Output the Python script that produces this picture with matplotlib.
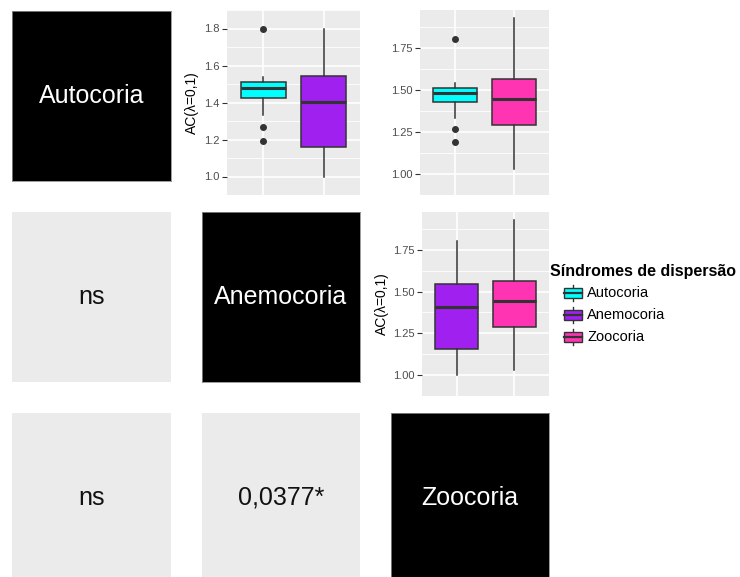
import numpy as np
import matplotlib
matplotlib.use("Agg")
import matplotlib.pyplot as plt
from matplotlib.patches import Rectangle
from matplotlib.lines import Line2D

plt.rcParams['font.family'] = ['Liberation Sans', 'DejaVu Sans']

# --- data -------------------------------------------------------------
groups = ["Autocoria", "Anemocoria", "Zoocoria"]
colors = ["#00FFFF", "#A020F0", "#FF34B3"]

q1 = [1.426, 1.157, 1.290]
median = [1.480, 1.405, 1.445]
q3 = [1.510, 1.543, 1.565]
whisker_low = [1.330, 1.000, 1.030]
whisker_high = [1.540, 1.800, 1.930]
outliers = [[1.80, 1.27, 1.19], [], []]

pair_labels = ["ns", "ns", "0,0377*"]     # lower triangle (row, col): (1,0), (2,0), (2,1)

ticks_p1 = [1.0, 1.2, 1.4, 1.6, 1.8]
ticks_p23 = [1.00, 1.25, 1.50, 1.75]

y_label = "AC(λ=0,1)"
legend_title = "Síndromes de dispersão"

# --- figure in pixel units -------------------------------------------
W, H = 740, 577
fig = plt.figure(figsize=(W / 100, H / 100), dpi=100)
fig.patch.set_facecolor("white")


def px_axes(x0, y0, x1, y1):
    return fig.add_axes([x0 / W, 1 - y1 / H, (x1 - x0) / W, (y1 - y0) / H])


cols = [(12, 171), (202, 360), (391, 549)]
rows = [(11, 181), (212, 382), (413, 583)]

# diagonal: group names on black tiles
for i, g in enumerate(groups):
    ax = px_axes(cols[i][0], rows[i][0], cols[i][1], rows[i][1])
    ax.set_facecolor("black")
    ax.set_xticks([]); ax.set_yticks([])
    for s in ax.spines.values():
        s.set_color("#8a8a8a"); s.set_linewidth(0.6)
    ax.text(0.5, 0.5, g, color="white", fontsize=18,
            ha="center", va="center", transform=ax.transAxes)

# lower triangle: test results on grey tiles
for (r, c), lab in zip([(1, 0), (2, 0), (2, 1)], pair_labels):
    ax = px_axes(cols[c][0], rows[r][0], cols[c][1], rows[r][1])
    ax.set_facecolor("#EBEBEB")
    ax.set_xticks([]); ax.set_yticks([])
    for s in ax.spines.values():
        s.set_visible(False)
    ax.text(0.5, 0.5, lab, color="#111111", fontsize=18,
            ha="center", va="center", transform=ax.transAxes)


def stats_for(i):
    return dict(med=median[i], q1=q1[i], q3=q3[i], whislo=whisker_low[i],
                whishi=whisker_high[i], fliers=outliers[i], label=groups[i])


def box_panel(rect, idx, ticks, fmt):
    ax = px_axes(*rect)
    ax.set_facecolor("#EBEBEB")
    for s in ax.spines.values():
        s.set_visible(False)
    st = [stats_for(i) for i in idx]
    art = ax.bxp(st, positions=[1, 2], widths=0.75, patch_artist=True,
                 showcaps=False,
                 boxprops=dict(edgecolor="#333333", linewidth=1.1),
                 medianprops=dict(color="#333333", linewidth=2.2),
                 whiskerprops=dict(color="#333333", linewidth=1.1),
                 flierprops=dict(marker="o", markersize=4.0,
                                 markerfacecolor="#333333",
                                 markeredgecolor="#333333"),
                 zorder=3)
    for patch, i in zip(art["boxes"], idx):
        patch.set_facecolor(colors[i])
    vals = []
    for i in idx:
        vals += [whisker_low[i], whisker_high[i]] + list(outliers[i])
    lo, hi = min(vals), max(vals)
    pad = 0.05 * (hi - lo)
    ax.set_ylim(lo - pad, hi + pad)
    ax.set_xlim(0.4, 2.6)
    ax.set_yticks(ticks)
    ax.set_yticklabels([fmt % t for t in ticks])
    step = ticks[1] - ticks[0]
    minor = [t + step / 2 for t in [ticks[0] - step] + list(ticks)]
    ax.set_yticks(minor, minor=True)
    ax.set_xticks([1, 2])
    ax.set_xticklabels([])
    ax.tick_params(axis="x", length=0)
    ax.tick_params(axis="y", which="major", length=3.8, width=0.8,
                   color="#333333", labelsize=8, labelcolor="#4D4D4D", pad=1.5)
    ax.tick_params(axis="y", which="minor", length=0)
    ax.grid(True, which="major", color="white", linewidth=1.2, zorder=0)
    ax.grid(True, which="minor", axis="y", color="white", linewidth=0.6, zorder=0)
    ax.set_axisbelow(True)
    return ax


box_panel((227, 10, 360, 195), [0, 1], ticks_p1, "%.1f")
box_panel((420, 10, 549, 195), [0, 2], ticks_p23, "%.2f")
box_panel((422, 212, 549, 396), [1, 2], ticks_p23, "%.2f")

fig.text(192 / W, 1 - 103 / H, y_label, rotation=90, fontsize=10,
         ha="center", va="center", color="black")
fig.text(382 / W, 1 - 304 / H, y_label, rotation=90, fontsize=10,
         ha="center", va="center", color="black")

# legend drawn in a pixel-space axes
lg = px_axes(545, 255, 740, 350)
lg.set_xlim(545, 740)
lg.set_ylim(350, 255)
lg.axis("off")
lg.text(550, 276, legend_title, fontsize=11.5, fontweight="bold",
        ha="left", va="baseline", color="black")
for k, (g, c) in enumerate(zip(groups, colors)):
    yc = 293 + 22 * k
    lg.add_line(Line2D([573, 573], [yc - 8, yc + 8], color="#333333", linewidth=1.0))
    lg.add_patch(Rectangle((564, yc - 5), 18, 10, facecolor=c,
                           edgecolor="#333333", linewidth=1.0, zorder=3))
    lg.add_line(Line2D([564, 582], [yc, yc], color="#333333", linewidth=1.6, zorder=4))
    lg.text(587, yc, g, fontsize=10.5, ha="left", va="center", color="black")

fig.savefig("out.png", dpi=100, facecolor="white")
